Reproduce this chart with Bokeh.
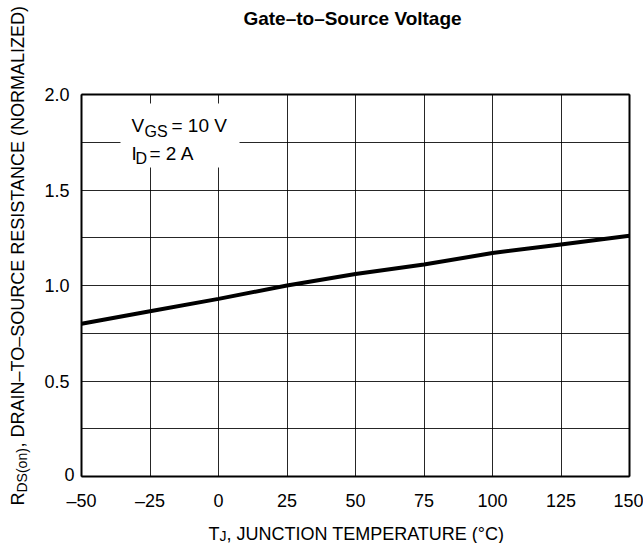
import math
from bokeh.plotting import figure
from bokeh.models import Label, FixedTicker, Range1d, LinearAxis
from bokeh.embed import file_html
from bokeh.resources import INLINE

# data
temps = [-50, -25, 0, 25, 50, 75, 100, 125, 150]
rds_norm = [0.80, 0.865, 0.93, 1.0, 1.06, 1.11, 1.17, 1.215, 1.26]
x_ticks = [-50, -25, 0, 25, 50, 75, 100, 125, 150]
x_tick_labels = ["–50", "–25", "0", "25", "50", "75", "100", "125", "150"]
y_ticks = [0.5, 1.0, 1.5, 2.0]
y_tick_labels = ["0.5", "1.0", "1.5", "2.0"]
y_grid = [0, 0.25, 0.5, 0.75, 1.0, 1.25, 1.5, 1.75, 2.0]
X_MIN, X_MAX = -50, 150
Y_MIN, Y_MAX = 0, 2.0

FONT = "Liberation Sans"
W, H = 643, 543
# plot area (pixels from top-left of the canvas)
PL, PR, PT, PB = 81, 629, 94, 476
sx = (X_MAX - X_MIN) / (PR - PL)
sy = (Y_MAX - Y_MIN) / (PB - PT)
def dx(px):
    return X_MIN + (px - PL) * sx
def dy(py):
    return Y_MIN + (PB - py) * sy

p = figure(width=W, height=H, output_backend="svg", toolbar_location=None,
           x_range=Range1d(dx(0), dx(W)), y_range=Range1d(dy(H), dy(0)),
           min_border=0)
p.background_fill_color = "white"
p.border_fill_color = "white"
p.outline_line_color = None

def style_axis(ax, ticks, labels, show_labels=True):
    ax.ticker = FixedTicker(ticks=ticks if show_labels else [])
    if show_labels:
        ax.major_label_overrides = {t: l for t, l in zip(ticks, labels)}
    ax.axis_line_width = 2
    ax.axis_line_color = "black"
    ax.major_tick_line_color = None
    ax.minor_tick_line_color = None
    ax.major_label_text_font = FONT
    ax.major_label_text_font_size = "18px"
    ax.major_label_text_color = "black"
    ax.major_label_standoff = 6

bx = p.xaxis[0]
bx.fixed_location = Y_MIN
bx.bounds = (X_MIN, X_MAX)
style_axis(bx, x_ticks, x_tick_labels)
bx.major_label_standoff = 8

ly = p.yaxis[0]
ly.fixed_location = X_MIN
ly.bounds = (Y_MIN, Y_MAX)
style_axis(ly, y_ticks, y_tick_labels)

tx = LinearAxis(fixed_location=Y_MAX, bounds=(X_MIN, X_MAX))
style_axis(tx, [], [], show_labels=False)
p.add_layout(tx, "above")
ry = LinearAxis(fixed_location=X_MAX, bounds=(Y_MIN, Y_MAX))
style_axis(ry, [], [], show_labels=False)
p.add_layout(ry, "right")

xg, yg = p.xgrid[0], p.ygrid[0]
xg.ticker = FixedTicker(ticks=x_ticks)
yg.ticker = FixedTicker(ticks=y_grid)
xg.bounds = (X_MIN, X_MAX)
yg.bounds = (Y_MIN, Y_MAX)
for g in (xg, yg):
    g.grid_line_color = "black"
    g.grid_line_width = 1
    g.grid_line_alpha = 0.85
if hasattr(xg, "cross_bounds"):
    xg.cross_bounds = (Y_MIN, Y_MAX)
    yg.cross_bounds = (X_MIN, X_MAX)
else:
    xr, yr = p.x_range, p.y_range
    p.quad(left=[xr.start, X_MAX, X_MIN, X_MIN], right=[X_MIN, xr.end, X_MAX, X_MAX],
           bottom=[yr.start, yr.start, Y_MAX, yr.start], top=[yr.end, yr.end, yr.end, Y_MIN],
           fill_color="white", line_color=None)

# white box behind the condition text
p.quad(left=[dx(120)], right=[dx(239)], bottom=[dy(167)], top=[dy(103)],
       fill_color="white", line_color=None)

p.line(temps, rds_norm, line_color="black", line_width=4)

def lab(px, py, text, size="18px", style="normal", angle=0, align="left"):
    p.add_layout(Label(x=dx(px), y=dy(py), text=text, text_font=FONT, text_font_size=size,
                       text_font_style=style, text_color="black", angle=angle,
                       text_align=align, text_baseline="alphabetic"))

# "0" label of the y axis
lab(74, 474, "0", align="right")

# condition text
lab(131, 125, "V", size="19px")
lab(144, 131, "GS", size="16px")
lab(171, 125, "= 10 V", size="19px")
lab(131, 153, "I", size="19px")
lab(135, 158, "D", size="16px")
lab(149, 153, "= 2 A", size="19px")

# title
lab(352, 18, "Gate–to–Source Voltage", size="19px", style="bold", align="center")

# x axis title
lab(208, 533, "T")
lab(219, 535, "J", size="14px")
lab(226, 533, ", JUNCTION TEMPERATURE (°C)")

# y axis title (rotated)
a = math.pi / 2
lab(17, 505, "R", angle=a)
lab(21, 492, "DS(on)", size="14px", angle=a)
lab(17, 447, ", DRAIN–TO–SOURCE RESISTANCE (NORMALIZED)", angle=a)

open("out.html", "w").write(file_html(p, INLINE))
